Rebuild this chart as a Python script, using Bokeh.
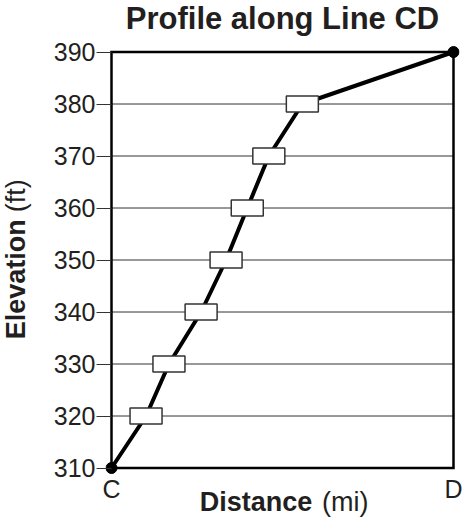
from bokeh.plotting import figure
from bokeh.models import Range1d, FixedTicker, Title
from bokeh.embed import file_html
from bokeh.resources import INLINE

# ---- data ----
x_ticks = [0, 10]
x_tick_labels = ["C", "D"]
y_ticks = [310, 320, 330, 340, 350, 360, 370, 380, 390]
profile_dist = [0, 1.01, 1.68, 2.62, 3.35, 3.97, 4.60, 5.58, 10]
profile_elev = [310, 320, 330, 340, 350, 360, 370, 380, 390]
title_text = "Profile along Line CD"
xlabel_bold, xlabel_unit = "Distance", "(mi)"
ylabel_bold, ylabel_unit = "Elevation", "(ft)"

FONT = "Liberation Sans"
TXT = "#231f20"

xmin, xmax = min(x_ticks), max(x_ticks)
ymin, ymax = min(y_ticks), max(y_ticks)
padx = 6 / 34.2
pady = 6.5 / 5.2

p = figure(width=463, height=517, output_backend="svg", toolbar_location=None,
           title=None,
           x_range=Range1d(xmin - padx, xmax + padx),
           y_range=Range1d(ymin - pady, ymax + pady),
           min_border_left=105, min_border_right=4,
           min_border_top=45, min_border_bottom=43)
p.outline_line_color = None
p.background_fill_color = "white"
p.border_fill_color = "white"
p.xgrid.visible = False
p.ygrid.visible = False

# axes
p.xaxis.ticker = FixedTicker(ticks=x_ticks)
p.xaxis.major_label_overrides = {t: l for t, l in zip(x_ticks, x_tick_labels)}
p.xaxis.axis_line_color = None
p.xaxis.major_tick_out = 0
p.xaxis.major_tick_in = 0
p.xaxis.major_tick_line_color = None
p.xaxis.minor_tick_line_color = None
p.xaxis.minor_tick_out = 0
p.xaxis.major_label_standoff = 0
p.xaxis.major_label_text_font = FONT
p.xaxis.major_label_text_font_size = "25px"
p.xaxis.major_label_text_color = TXT

p.yaxis.ticker = FixedTicker(ticks=y_ticks)
p.yaxis.axis_line_color = None
p.yaxis.major_tick_out = 9
p.yaxis.major_tick_in = 6
p.yaxis.minor_tick_out = 0
p.yaxis.major_tick_line_color = "#333333"
p.yaxis.major_tick_line_width = 1
p.yaxis.minor_tick_line_color = None
p.yaxis.major_label_standoff = 1
p.yaxis.major_label_text_font = FONT
p.yaxis.major_label_text_font_size = "25px"
p.yaxis.major_label_text_color = TXT

# gridlines (inner) and frame
inner = y_ticks[1:-1]
p.segment(x0=[xmin] * len(inner), x1=[xmax] * len(inner), y0=inner, y1=inner,
          line_color="#333333", line_width=1)
p.line([xmin, xmax, xmax, xmin, xmin], [ymin, ymin, ymax, ymax, ymin],
       line_color="black", line_width=2.5, line_join="miter")

# profile
p.line(profile_dist, profile_elev, line_color="black", line_width=4, line_join="round")
p.rect(profile_dist[1:-1], profile_elev[1:-1], width=32, height=16,
       width_units="screen", height_units="screen",
       fill_color="white", line_color="#333333", line_width=1.5)
p.scatter([profile_dist[0], profile_dist[-1]], [profile_elev[0], profile_elev[-1]],
          size=11, fill_color="black", line_color="black")


def spacer(size_px):
    # blank title used only to reserve space in a side panel
    return Title(text=" ", text_font_size="10px", standoff=size_px - 13.2)


def txt(text, size, style, align, offset, standoff):
    return Title(text=text, text_font=FONT, text_font_size=f"{size}px",
                 text_font_style=style, text_color=TXT, align=align,
                 offset=offset, standoff=standoff, vertical_align="top")


# title (above)
p.add_layout(spacer(25.75), "above")
p.add_layout(txt(title_text, 31, "bold", "center", 0, -36.6), "above")

# x label (below)
p.add_layout(txt(xlabel_bold, 27, "bold", "right", 147.3, -38.0), "below")
p.add_layout(txt(xlabel_unit, 27, "normal", "left", 216.5, -38.0), "below")

# y label (left)
p.add_layout(spacer(33.6), "left")
p.add_layout(txt(ylabel_bold, 27, "bold", "right", 173.7, -32.2), "left")
p.add_layout(txt(ylabel_unit, 27, "normal", "left", 262.3, -32.2), "left")

open("out.html", "w").write(file_html(p, INLINE))
